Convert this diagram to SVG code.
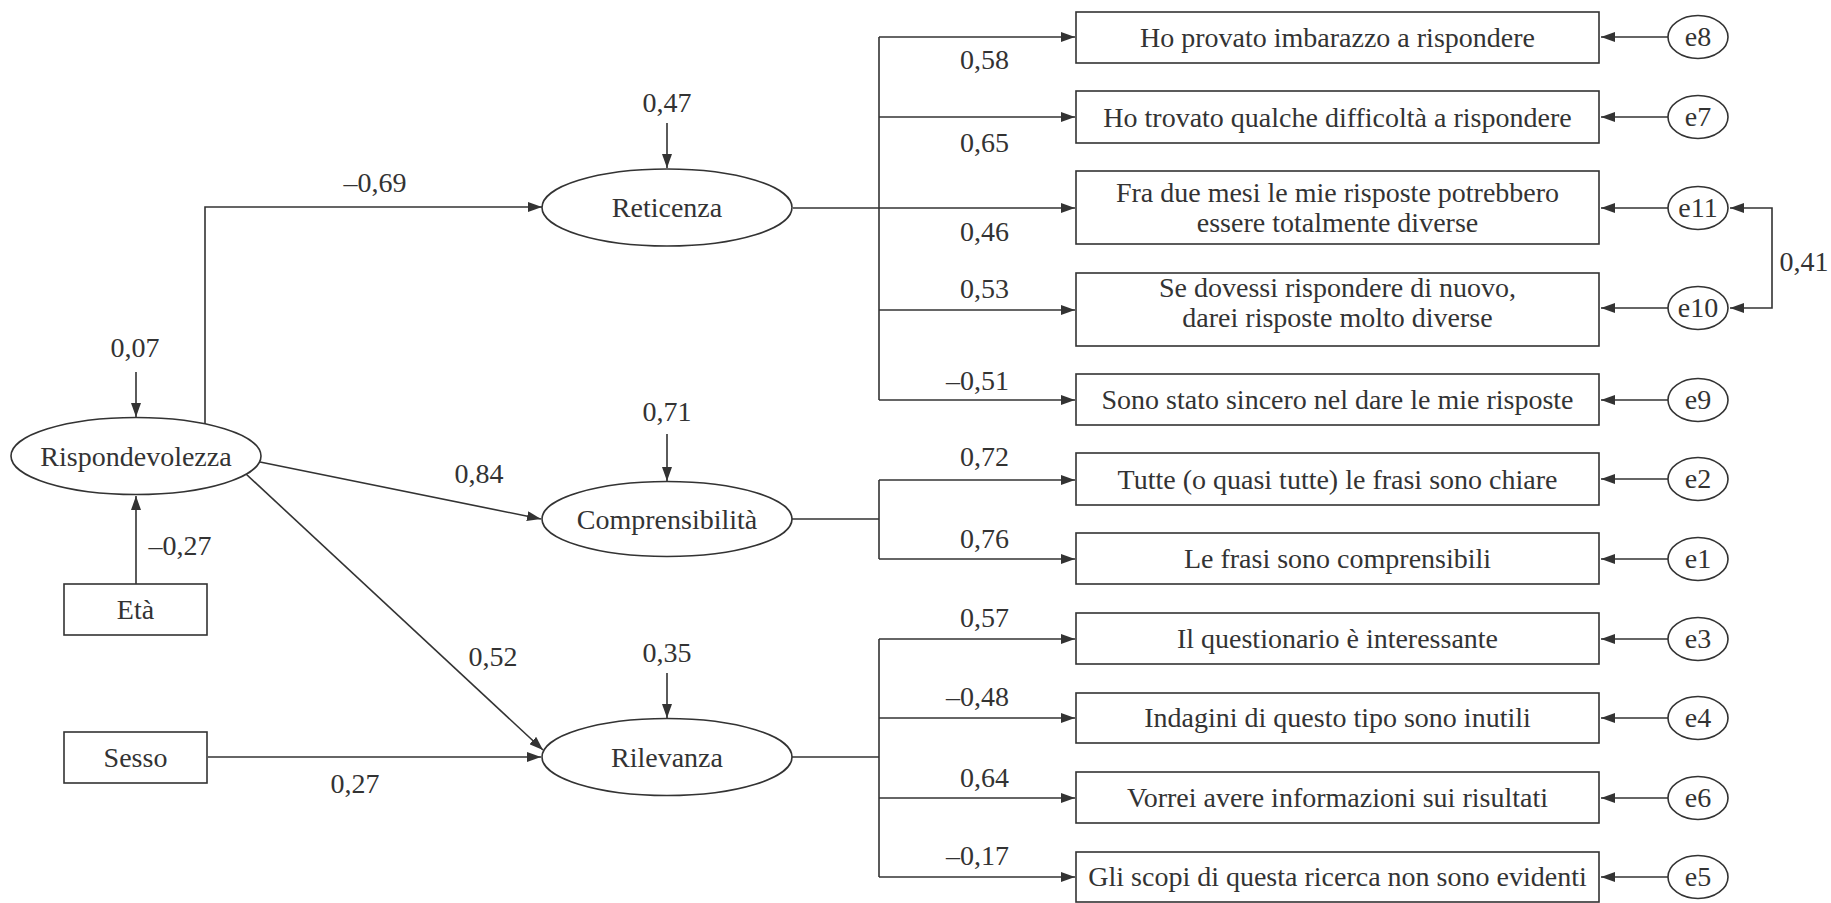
<svg xmlns="http://www.w3.org/2000/svg" width="1831" height="903" viewBox="0 0 1831 903">
<style>
text{font-family:'Liberation Serif',serif;font-size:28px;fill:#333}
.c{text-anchor:middle}
.e{text-anchor:end}
.shape{fill:#fff;stroke:#333;stroke-width:1.6}
.ln{fill:none;stroke:#333;stroke-width:1.6}
.ar{marker-end:url(#ah)}
</style>
<defs>
<marker id="ah" viewBox="0 0 14 10" refX="14" refY="5" markerWidth="14" markerHeight="10" markerUnits="userSpaceOnUse" orient="auto-start-reverse">
<path d="M0,0 L14,5 L0,10 z" fill="#333"/>
</marker>
</defs>
<rect width="1831" height="903" fill="#fff"/>

<g id="connectors">
<path class="ln ar" d="M205,424 V207 H542"/>
<path class="ln ar" d="M260,462 L541,519"/>
<path class="ln ar" d="M246,474 L543,750"/>
<path class="ln ar" d="M136,584 V496"/>
<path class="ln ar" d="M208,757 H541"/>
<path class="ln ar" d="M136,372 V417"/>
<path class="ln ar" d="M667,123 V168"/>
<path class="ln ar" d="M667,434 V481"/>
<path class="ln ar" d="M667,673 V718"/>
<path class="ln" d="M879,37 V400"/>
<path class="ln ar" d="M793,208 H1075"/>
<path class="ln ar" d="M879,37 H1075"/>
<path class="ln ar" d="M879,117 H1075"/>
<path class="ln ar" d="M879,310 H1075"/>
<path class="ln ar" d="M879,400 H1075"/>
<path class="ln" d="M792,519 H879 M879,480 V559"/>
<path class="ln ar" d="M879,480 H1075"/>
<path class="ln ar" d="M879,559 H1075"/>
<path class="ln" d="M792,757 H879 M879,639 V877"/>
<path class="ln ar" d="M879,639 H1075"/>
<path class="ln ar" d="M879,718 H1075"/>
<path class="ln ar" d="M879,798 H1075"/>
<path class="ln ar" d="M879,877 H1075"/>
<path class="ln ar" d="M1668,37 H1601"/>
<path class="ln ar" d="M1668,117 H1601"/>
<path class="ln ar" d="M1668,208 H1601"/>
<path class="ln ar" d="M1668,308 H1601"/>
<path class="ln ar" d="M1668,400 H1601"/>
<path class="ln ar" d="M1668,479 H1601"/>
<path class="ln ar" d="M1668,559 H1601"/>
<path class="ln ar" d="M1668,639 H1601"/>
<path class="ln ar" d="M1668,718 H1601"/>
<path class="ln ar" d="M1668,798 H1601"/>
<path class="ln ar" d="M1668,877 H1601"/>
<path class="ln" d="M1730,208 H1772 V308 H1730" marker-start="url(#ah)" marker-end="url(#ah)"/>
<text class="c" x="375" y="192">–0,69</text>
<text class="c" x="135" y="357">0,07</text>
<text class="c" x="479" y="483">0,84</text>
<text class="c" x="180" y="555">–0,27</text>
<text class="c" x="667" y="112">0,47</text>
<text class="c" x="667" y="421">0,71</text>
<text class="c" x="667" y="662">0,35</text>
<text class="c" x="493" y="666">0,52</text>
<text class="c" x="355" y="793">0,27</text>
<text class="e" x="1009" y="69">0,58</text>
<text class="e" x="1009" y="152">0,65</text>
<text class="e" x="1009" y="241">0,46</text>
<text class="e" x="1009" y="298">0,53</text>
<text class="e" x="1009" y="390">–0,51</text>
<text class="e" x="1009" y="466">0,72</text>
<text class="e" x="1009" y="548">0,76</text>
<text class="e" x="1009" y="627">0,57</text>
<text class="e" x="1009" y="706">–0,48</text>
<text class="e" x="1009" y="787">0,64</text>
<text class="e" x="1009" y="865">–0,17</text>
<text class="c" x="1804" y="271">0,41</text>
</g>

<g id="rispondevolezza"><ellipse class="shape" cx="136" cy="456" rx="125" ry="38.5"/><text class="c" x="136" y="466">Rispondevolezza</text></g>
<g id="eta"><rect class="shape" x="64" y="584" width="143" height="51"/><text class="c" x="135.5" y="619">Età</text></g>
<g id="sesso"><rect class="shape" x="64" y="732" width="143" height="51"/><text class="c" x="135.5" y="767">Sesso</text></g>
<g id="reticenza"><ellipse class="shape" cx="667" cy="207.5" rx="125" ry="38.5"/><text class="c" x="667" y="217">Reticenza</text></g>
<g id="comprensibilita"><ellipse class="shape" cx="667" cy="519" rx="125" ry="37.5"/><text class="c" x="667" y="529">Comprensibilità</text></g>
<g id="rilevanza"><ellipse class="shape" cx="667" cy="757" rx="125" ry="38.5"/><text class="c" x="667" y="767">Rilevanza</text></g>

<g id="item8"><rect class="shape" x="1076" y="12" width="523" height="51"/><text class="c" x="1337.5" y="47">Ho provato imbarazzo a rispondere</text></g>
<g id="item7"><rect class="shape" x="1076" y="91" width="523" height="52"/><text class="c" x="1337.5" y="127">Ho trovato qualche difficoltà a rispondere</text></g>
<g id="item11"><rect class="shape" x="1076" y="171" width="523" height="73"/><text class="c" x="1337.5" y="202">Fra due mesi le mie risposte potrebbero</text><text class="c" x="1337.5" y="232">essere totalmente diverse</text></g>
<g id="item10"><rect class="shape" x="1076" y="273" width="523" height="73"/><text class="c" x="1337.5" y="297">Se dovessi rispondere di nuovo,</text><text class="c" x="1337.5" y="327">darei risposte molto diverse</text></g>
<g id="item9"><rect class="shape" x="1076" y="374" width="523" height="51"/><text class="c" x="1337.5" y="409">Sono stato sincero nel dare le mie risposte</text></g>
<g id="item2"><rect class="shape" x="1076" y="453" width="523" height="52"/><text class="c" x="1337.5" y="489">Tutte (o quasi tutte) le frasi sono chiare</text></g>
<g id="item1"><rect class="shape" x="1076" y="533" width="523" height="51"/><text class="c" x="1337.5" y="568">Le frasi sono comprensibili</text></g>
<g id="item3"><rect class="shape" x="1076" y="613" width="523" height="51"/><text class="c" x="1337.5" y="648">Il questionario è interessante</text></g>
<g id="item4"><rect class="shape" x="1076" y="693" width="523" height="50"/><text class="c" x="1337.5" y="727">Indagini di questo tipo sono inutili</text></g>
<g id="item6"><rect class="shape" x="1076" y="772" width="523" height="51"/><text class="c" x="1337.5" y="807">Vorrei avere informazioni sui risultati</text></g>
<g id="item5"><rect class="shape" x="1076" y="852" width="523" height="50"/><text class="c" x="1337.5" y="886">Gli scopi di questa ricerca non sono evidenti</text></g>

<g id="e8"><ellipse class="shape" cx="1698" cy="37" rx="30" ry="21.5"/><text class="c" x="1698" y="46">e8</text></g>
<g id="e7"><ellipse class="shape" cx="1698" cy="117" rx="30" ry="21.5"/><text class="c" x="1698" y="126">e7</text></g>
<g id="e11"><ellipse class="shape" cx="1698" cy="208" rx="30" ry="21.5"/><text class="c" x="1698" y="217">e11</text></g>
<g id="e10"><ellipse class="shape" cx="1698" cy="308" rx="30" ry="21.5"/><text class="c" x="1698" y="317">e10</text></g>
<g id="e9"><ellipse class="shape" cx="1698" cy="400" rx="30" ry="21.5"/><text class="c" x="1698" y="409">e9</text></g>
<g id="e2"><ellipse class="shape" cx="1698" cy="479" rx="30" ry="21.5"/><text class="c" x="1698" y="488">e2</text></g>
<g id="e1"><ellipse class="shape" cx="1698" cy="559" rx="30" ry="21.5"/><text class="c" x="1698" y="568">e1</text></g>
<g id="e3"><ellipse class="shape" cx="1698" cy="639" rx="30" ry="21.5"/><text class="c" x="1698" y="648">e3</text></g>
<g id="e4"><ellipse class="shape" cx="1698" cy="718" rx="30" ry="21.5"/><text class="c" x="1698" y="727">e4</text></g>
<g id="e6"><ellipse class="shape" cx="1698" cy="798" rx="30" ry="21.5"/><text class="c" x="1698" y="807">e6</text></g>
<g id="e5"><ellipse class="shape" cx="1698" cy="877" rx="30" ry="21.5"/><text class="c" x="1698" y="886">e5</text></g>
</svg>
